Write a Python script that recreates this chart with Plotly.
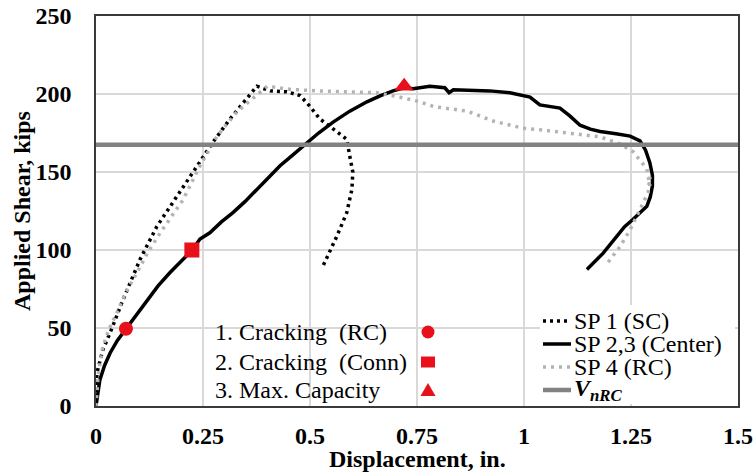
import plotly.graph_objects as go

# ---- data (displacement in., applied shear kips) ----
sp1_x = [0, 0.002, 0.016, 0.033, 0.063, 0.103, 0.142, 0.196, 0.243, 0.273, 0.313, 0.353, 0.376,
         0.407, 0.446, 0.477, 0.50, 0.523, 0.554, 0.586, 0.593, 0.60, 0.598, 0.586, 0.563, 0.53]
sp1_y = [0, 21, 36, 47, 68, 94, 115, 137, 156, 169, 184, 197, 205,
         202, 201.4, 199, 192, 184, 177.6, 171, 160, 150, 139, 124, 109, 89.5]

sp23_x = [0, 0.004, 0.009, 0.02, 0.033, 0.05, 0.07, 0.095, 0.119, 0.145, 0.173, 0.2, 0.224, 0.243,
          0.266, 0.293, 0.32, 0.348, 0.376, 0.40, 0.43, 0.456, 0.484, 0.52, 0.554, 0.593, 0.633,
          0.665, 0.694, 0.72, 0.741, 0.78, 0.815, 0.825, 0.835, 0.88, 0.92, 0.967, 1.014, 1.037,
          1.06, 1.084, 1.107, 1.131, 1.155, 1.178, 1.215, 1.248, 1.271, 1.284, 1.294, 1.30, 1.30,
          1.295, 1.287, 1.272, 1.255, 1.235, 1.217, 1.185, 1.147]
sp23_y = [0, 8, 16.7, 26, 34, 42, 49.5, 59, 68, 77, 85.6, 93, 99.7, 107,
          111, 118, 124, 131, 139, 145.5, 154, 160, 166.7, 175, 182, 189, 195,
          199, 202, 204, 203.3, 205, 204, 200.8, 202.7, 202.3, 202, 200.8, 198, 193,
          192, 191, 186, 180, 177.5, 176, 174.5, 173, 170, 164, 156, 148, 141,
          134, 128, 124, 119.7, 115, 109, 98, 87.5]

sp4_x = [0, 0.005, 0.016, 0.03, 0.049, 0.07, 0.096, 0.12, 0.15, 0.175, 0.203, 0.243, 0.283, 0.329,
         0.376, 0.40, 0.453, 0.516, 0.593, 0.656, 0.71, 0.757, 0.788, 0.83, 0.867, 0.928, 0.998,
         1.04, 1.084, 1.13, 1.178, 1.224, 1.255, 1.287, 1.294, 1.294, 1.29, 1.271, 1.248, 1.224, 1.196]
sp4_y = [0, 20, 38, 49, 60, 73, 85.6, 98, 111, 121, 132, 154, 173, 188.5,
         199, 205, 203, 202, 201.4, 200.8, 198, 195, 192, 190.5, 189, 182.7, 178,
         177, 175.7, 174, 172.5, 168, 163, 152, 141, 147, 137, 126, 113, 102, 92]

vnrc = 167.5
vnrc_x = [0, 1.5]

event_x = [0.07, 0.224, 0.72]
event_y = [49.5, 100, 205]
event_symbols = ["circle", "square", "triangle-up"]
event_labels = ["1. Cracking\u00a0\u00a0(RC)", "2. Cracking\u00a0\u00a0(Conn)", "3. Max. Capacity"]

series_names = ["SP 1 (SC)", "SP 2,3 (Center)", "SP 4 (RC)",
                "<b><i>V</i></b><sub><b><i>nRC</i></b></sub>"]

x_ticks = [0, 0.25, 0.5, 0.75, 1, 1.25, 1.5]
x_ticktext = ["0", "0.25", "0.5", "0.75", "1", "1.25", "1.5"]
y_ticks = [0, 50, 100, 150, 200, 250]

RED = "#e8101a"
FONT = "Liberation Serif"
L, R, T, B = 96, 738, 16, 406
W, H = 754, 473


def px(x):
    return (x - L) / (R - L)


def py(y):
    return (B - y) / (B - T)


styles = [dict(color="black", width=3.5, dash="3px,4px"),
          dict(color="black", width=3.5),
          dict(color="#b3b3b3", width=3.5, dash="3px,5px"),
          dict(color="#828282", width=4.5)]

fig = go.Figure()
fig.add_trace(go.Scatter(x=sp1_x, y=sp1_y, mode="lines", name=series_names[0],
                         line=styles[0], showlegend=False))
fig.add_trace(go.Scatter(x=sp23_x, y=sp23_y, mode="lines", name=series_names[1],
                         line=styles[1], showlegend=False))
fig.add_trace(go.Scatter(x=sp4_x, y=sp4_y, mode="lines", name=series_names[2],
                         line=styles[2], showlegend=False))
fig.add_trace(go.Scatter(x=vnrc_x, y=[vnrc, vnrc], mode="lines", name="VnRC",
                         line=styles[3], showlegend=False))
fig.add_trace(go.Scatter(x=event_x, y=event_y, mode="markers", showlegend=False,
                         marker=dict(color=RED, size=[14, 15, 17], symbol=event_symbols,
                                     line=dict(width=0), opacity=1)))

# ---- left legend: text then red marker ----
fig.add_shape(type="rect", xref="paper", yref="paper",
              x0=px(207), x1=px(440), y0=py(404), y1=py(314),
              fillcolor="white", line=dict(width=0), layer="between")
rows_l = [332, 362, 390]
for lab, yy in zip(event_labels, rows_l):
    fig.add_annotation(xref="paper", yref="paper", x=px(213), y=py(yy),
                       text=lab, showarrow=False, xanchor="left", yanchor="middle",
                       font=dict(family=FONT, size=24, color="black"))
cx = 428
fig.add_shape(type="circle", xref="paper", yref="paper",
              x0=px(cx - 6.5), x1=px(cx + 6.5), y0=py(rows_l[0] + 6.5), y1=py(rows_l[0] - 6.5),
              fillcolor=RED, line=dict(width=0), layer="above")
fig.add_shape(type="rect", xref="paper", yref="paper",
              x0=px(cx - 7), x1=px(cx + 7), y0=py(rows_l[1] + 5.5), y1=py(rows_l[1] - 5.5),
              fillcolor=RED, line=dict(width=0), layer="above")
fig.add_shape(type="path", xref="paper", yref="paper",
              path="M {} {} L {} {} L {} {} Z".format(px(cx - 7.5), py(rows_l[2] + 6),
                                                      px(cx + 7.5), py(rows_l[2] + 6),
                                                      px(cx), py(rows_l[2] - 7)),
              fillcolor=RED, line=dict(width=0), layer="above")

# ---- right legend: line sample then text ----
fig.add_shape(type="rect", xref="paper", yref="paper",
              x0=px(540), x1=px(735), y0=py(404), y1=py(305),
              fillcolor="white", line=dict(width=0), layer="above")
rows_r = [321, 344, 367, 390]
for name, st, yy in zip(series_names, styles, rows_r):
    fig.add_shape(type="line", xref="paper", yref="paper",
                  x0=px(543), x1=px(571), y0=py(yy), y1=py(yy),
                  line=dict(color=st["color"], width=st["width"], dash=st.get("dash", "solid")),
                  layer="above")
    fig.add_annotation(xref="paper", yref="paper", x=px(572), y=py(yy),
                       text=name, showarrow=False, xanchor="left", yanchor="middle",
                       font=dict(family=FONT, size=24, color="black"))

# ---- axis titles ----
fig.add_annotation(xref="paper", yref="paper", x=0.5, y=py(459), text="<b>Displacement, in.</b>",
                   showarrow=False, xanchor="center", yanchor="middle",
                   font=dict(family=FONT, size=24, color="black"))
fig.add_annotation(xref="paper", yref="paper", x=px(22), y=0.5, text="<b>Applied Shear, kips</b>",
                   showarrow=False, xanchor="center", yanchor="middle", textangle=-90,
                   font=dict(family=FONT, size=24, color="black"))

fig.update_layout(
    width=W, height=H,
    margin=dict(l=L, r=W - R, t=T, b=H - B, autoexpand=False),
    plot_bgcolor="white", paper_bgcolor="white",
    font=dict(family=FONT, color="black"),
    showlegend=False,
    xaxis=dict(range=[0, 1.5], tickvals=x_ticks, ticktext=x_ticktext, automargin=False,
               tickfont=dict(family=FONT, size=24, color="black", weight="bold"),
               showgrid=True, gridcolor="#d9d9d9", gridwidth=1.5,
               showline=True, linecolor="#3a3a3a", linewidth=1.5, mirror=True,
               zeroline=False, ticks="", ticklabelstandoff=7),
    yaxis=dict(range=[0, 250], tickvals=y_ticks, automargin=False,
               tickfont=dict(family=FONT, size=24, color="black", weight="bold"),
               showgrid=True, gridcolor="#d9d9d9", gridwidth=1.5,
               showline=True, linecolor="#3a3a3a", linewidth=1.5, mirror=True,
               zeroline=False, ticks="", ticklabelstandoff=18),
)

fig.write_html("out.html", config={"displayModeBar": False},
               post_script="document.body.style.margin='0';document.body.style.overflow='hidden';")
